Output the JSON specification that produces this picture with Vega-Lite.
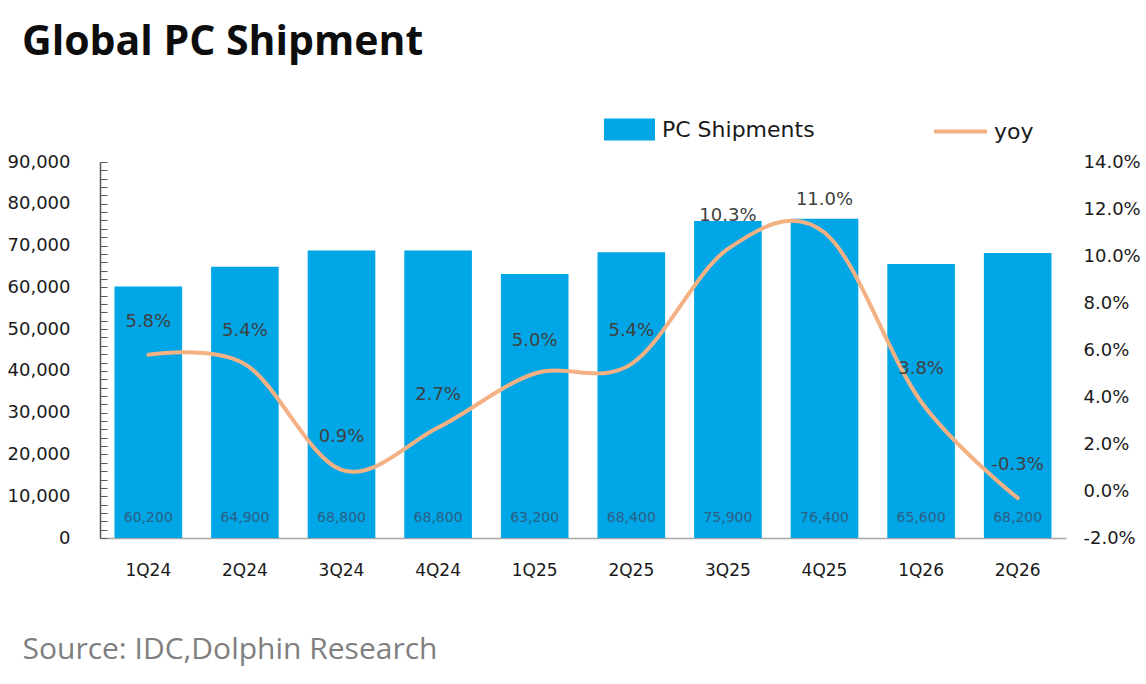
{
  "$schema": "https://vega.github.io/schema/vega-lite/v6.json",
  "width": 966,
  "height": 376,
  "autosize": "none",
  "padding": {"left": 100, "top": 162, "right": 80, "bottom": 146},
  "background": "white",
  "title": {
    "text": "Global PC Shipment",
    "anchor": "start",
    "frame": "group",
    "dx": -78,
    "offset": 7,
    "font": "Open Sans",
    "fontSize": 41,
    "fontWeight": "bold",
    "color": "#0d0d0d",
    "baseline": "alphabetic"
  },
  "data": {
    "values": [
      {"q": "1Q24", "ship": 60200, "yoy": 0.058},
      {"q": "2Q24", "ship": 64900, "yoy": 0.054},
      {"q": "3Q24", "ship": 68800, "yoy": 0.009},
      {"q": "4Q24", "ship": 68800, "yoy": 0.027},
      {"q": "1Q25", "ship": 63200, "yoy": 0.050},
      {"q": "2Q25", "ship": 68400, "yoy": 0.054},
      {"q": "3Q25", "ship": 75900, "yoy": 0.103},
      {"q": "4Q25", "ship": 76400, "yoy": 0.110},
      {"q": "1Q26", "ship": 65600, "yoy": 0.038},
      {"q": "2Q26", "ship": 68200, "yoy": -0.003}
    ]
  },
  "encoding": {
    "x": {
      "field": "q",
      "type": "ordinal",
      "sort": null,
      "scale": {"paddingInner": 0.3, "paddingOuter": 0.15},
      "axis": {
        "title": "Source: IDC,Dolphin Research",
        "titleX": -78,
        "titleY": 120,
        "titleAlign": "left",
        "titleBaseline": "alphabetic",
        "titleFont": "Open Sans",
        "titleFontSize": 30,
        "titleFontWeight": "normal",
        "titleColor": "#7f7f7f",
        "labelAngle": 0,
        "labelFont": "DejaVu Sans",
        "labelFontSize": 17,
        "labelColor": "#1a1a1a",
        "labelPadding": 24,
        "ticks": false,
        "domainColor": "#a6a6a6",
        "domainWidth": 1.5
      }
    }
  },
  "layer": [
    {
      "layer": [
        {
          "mark": {"type": "bar"},
          "encoding": {
            "y": {
              "field": "ship",
              "type": "quantitative",
              "scale": {"domain": [0, 90000], "nice": false},
              "axis": {
                "title": null,
                "orient": "left",
                "values": [0, 2000, 4000, 6000, 8000, 10000, 12000, 14000, 16000, 18000, 20000, 22000, 24000, 26000, 28000, 30000, 32000, 34000, 36000, 38000, 40000, 42000, 44000, 46000, 48000, 50000, 52000, 54000, 56000, 58000, 60000, 62000, 64000, 66000, 68000, 70000, 72000, 74000, 76000, 78000, 80000, 82000, 84000, 86000, 88000, 90000],
                "tickCount": 60,
                "labelExpr": "datum.value % 10000 === 0 ? format(datum.value, ',') : ''",
                "labelOverlap": false,
                "labelFont": "DejaVu Sans",
                "labelFontSize": 18,
                "labelColor": "#1a1a1a",
                "labelPadding": 37,
                "tickSize": -7,
                "tickColor": "#595959",
                "domainColor": "#595959",
                "domainWidth": 1.5,
                "grid": false
              }
            },
            "fill": {
              "datum": "PC Shipments",
              "scale": {"range": ["#00a6e6"]},
              "legend": {
                "title": null,
                "orient": "none",
                "legendX": 504,
                "legendY": -58,
                "padding": 0,
                "symbolType": "M-1,-0.43H1V0.43H-1Z",
                "symbolSize": 2601,
                "symbolStrokeWidth": 0,
                "labelFont": "DejaVu Sans",
                "labelFontSize": 22,
                "labelColor": "#1a1a1a",
                "labelOffset": 7
              }
            }
          }
        },
        {
          "mark": {"type": "text", "dy": -20, "font": "DejaVu Sans", "fontSize": 14, "color": "#2c5f84"},
          "encoding": {
            "y": {"datum": 0},
            "text": {"field": "ship", "type": "quantitative", "format": ","}
          }
        }
      ]
    },
    {
      "layer": [
        {
          "mark": {"type": "line", "interpolate": "cardinal", "strokeWidth": 4, "strokeCap": "round"},
          "encoding": {
            "y": {
              "field": "yoy",
              "type": "quantitative",
              "scale": {"domain": [-0.02, 0.14], "nice": false, "zero": false},
              "axis": {
                "title": null,
                "orient": "right",
                "values": [-0.02, 0, 0.02, 0.04, 0.06, 0.08, 0.1, 0.12, 0.14],
                "tickCount": 20,
                "format": ".1%",
                "labelOverlap": false,
                "labelFont": "DejaVu Sans",
                "labelFontSize": 18,
                "labelColor": "#1a1a1a",
                "labelPadding": 17,
                "ticks": false,
                "domain": false,
                "grid": false
              }
            },
            "stroke": {
              "datum": "yoy",
              "scale": {"range": ["#f4b183"]},
              "legend": {
                "title": null,
                "orient": "none",
                "legendX": 832,
                "legendY": -59,
                "padding": 0,
                "symbolType": "stroke",
                "symbolSize": 2809,
                "symbolStrokeWidth": 4,
                "labelFont": "DejaVu Sans",
                "labelFontSize": 22,
                "labelColor": "#1a1a1a",
                "labelOffset": 5
              }
            }
          }
        },
        {
          "mark": {"type": "text", "dy": -33, "font": "DejaVu Sans", "fontSize": 18, "color": "#404040"},
          "encoding": {
            "y": {"field": "yoy", "type": "quantitative"},
            "text": {"field": "yoy", "type": "quantitative", "format": ".1%"}
          }
        }
      ]
    }
  ],
  "resolve": {"scale": {"y": "independent"}},
  "config": {
    "view": {"stroke": null},
    "locale": {
      "number": {"decimal": ".", "thousands": ",", "grouping": [3], "currency": ["$", ""], "minus": "-"}
    }
  }
}
